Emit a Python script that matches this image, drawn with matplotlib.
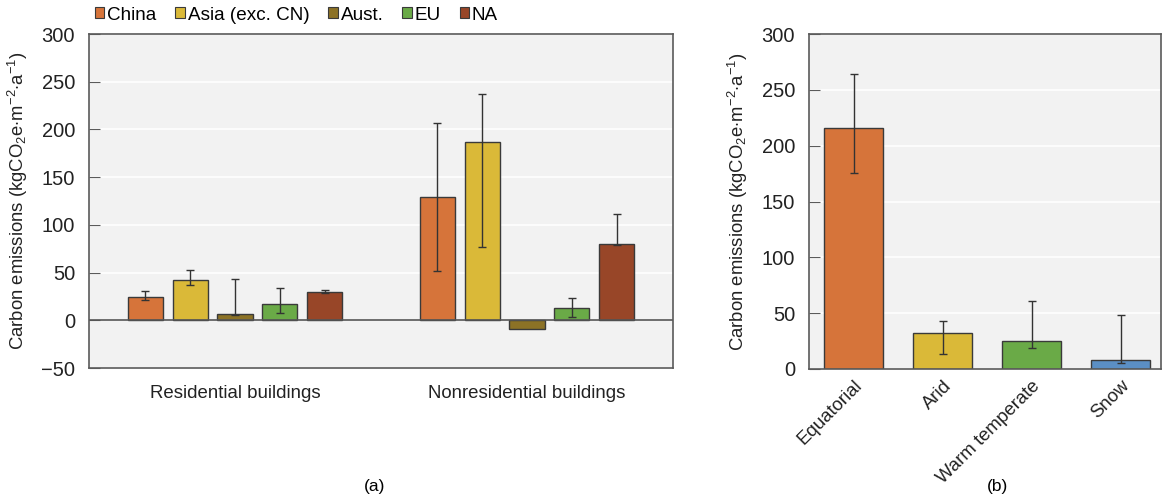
import numpy as np
import matplotlib.pyplot as plt
from matplotlib.patches import Patch

plt.rcParams['font.family'] = ['Liberation Sans', 'DejaVu Sans']
plt.rcParams['font.size'] = 11
plt.rcParams['mathtext.fontset'] = 'custom'
plt.rcParams['mathtext.rm'] = 'Liberation Sans'
plt.rcParams['mathtext.it'] = 'Liberation Sans'

# panel (a): emissions by region and building type
groups = ['Residential buildings', 'Nonresidential buildings']
regions = ['China', 'Asia (exc. CN)', 'Aust.', 'EU', 'NA']
region_colors = ['#d6743a', '#dab938', '#8c7226', '#6aaa47', '#984628']
vals_a = [[24, 42, 6.5, 17, 30],
          [129.5, 186.5, -9.5, 12.5, 80]]
err_lo_a = [[21.5, 36.5, 5.5, 7.5, 29],
            [52, 77, -9.5, 3, 78.5]]
err_hi_a = [[30.5, 52.5, 43.5, 34, 31.5],
            [207, 237.5, -9.5, 23, 111]]

# panel (b): emissions by climate zone
zones = ['Equatorial', 'Arid', 'Warm temperate', 'Snow']
zone_colors = ['#d6743a', '#dab938', '#6aaa47', '#5b8fc4']
vals_b = [215.5, 32.5, 25, 8.5]
err_lo_b = [175.5, 13.5, 18.5, 5.5]
err_hi_b = [264, 43, 61, 48]

ylabel = 'Carbon emissions (kgCO$_2$e$\\cdot$m$^{-2}$$\\cdot$a$^{-1}$)'
edge = '#3a3a3a'
spine_col = '#5a5a5a'


def style_axes(ax):
    ax.set_facecolor('#f2f2f2')
    for s in ax.spines.values():
        s.set_color(spine_col)
        s.set_linewidth(1.2)
    ax.yaxis.grid(True, color='white', linewidth=1.2)
    ax.set_axisbelow(True)
    ax.tick_params(axis='y', direction='in', length=8, color=spine_col,
                   labelsize=14.5, pad=10, labelcolor='#222222')
    ax.tick_params(axis='x', length=0, labelsize=13.4, labelcolor='#222222')
    ax.set_ylabel(ylabel, fontsize=13.3, color='#222222', labelpad=8)


fig = plt.figure(figsize=(11.62, 5.0), dpi=100)
ax1 = fig.add_axes([89 / 1162, 1 - 368 / 500, 584 / 1162, 334 / 500])
ax2 = fig.add_axes([809 / 1162, 1 - 369 / 500, 352 / 1162, 335 / 500])

style_axes(ax1)
step = 0.154
width = 0.12
x = np.arange(len(groups))
for i, (name, col) in enumerate(zip(regions, region_colors)):
    v = np.array([vals_a[g][i] for g in range(len(groups))])
    lo = np.array([err_lo_a[g][i] for g in range(len(groups))])
    hi = np.array([err_hi_a[g][i] for g in range(len(groups))])
    pos = x + (i - 2) * step
    ax1.bar(pos, v, width, color=col, edgecolor=edge, linewidth=1, zorder=2)
    yerr = np.vstack([np.clip(v - lo, 0, None), np.clip(hi - v, 0, None)])
    show = yerr.sum(axis=0) > 0
    ax1.errorbar(pos[show], v[show], yerr=yerr[:, show], fmt='none',
                 ecolor='#333333', elinewidth=1, capsize=3, capthick=1, zorder=3)
ax1.axhline(0, color='#555555', linewidth=1.2, zorder=2.5)
ax1.set_xlim(-0.5, 1.5)
ax1.set_ylim(-50, 300)
ax1.set_yticks(np.arange(-50, 301, 50))
ax1.set_yticklabels(['\u221250'] + [str(t) for t in range(0, 301, 50)])
ax1.set_xticks(x)
ax1.set_xticklabels(groups)
ax1.tick_params(axis='x', pad=12)

style_axes(ax2)
xb = np.arange(len(zones))
vb = np.array(vals_b)
ax2.bar(xb, vb, 0.66, color=zone_colors, edgecolor=edge, linewidth=1, zorder=2)
ax2.errorbar(xb, vb, yerr=[vb - np.array(err_lo_b), np.array(err_hi_b) - vb],
             fmt='none', ecolor='#333333', elinewidth=1, capsize=3, capthick=1,
             zorder=3)
ax2.set_xlim(-0.5, 3.45)
ax2.set_ylim(0, 300)
ax2.set_yticks(np.arange(0, 301, 50))
ax2.set_xticks(xb)
ax2.set_xticklabels(zones, rotation=45, ha='right', rotation_mode='anchor')
ax2.tick_params(axis='x', pad=6)

handles = [Patch(facecolor=c, edgecolor=edge, linewidth=0.8) for c in region_colors]
fig.legend(handles, regions, loc='center left', bbox_to_anchor=(95 / 1162, 1 - 15 / 500),
           ncol=5, frameon=False, fontsize=13.6, handlelength=0.5, handleheight=0.5,
           handletextpad=0.15, columnspacing=1.0, borderpad=0, borderaxespad=0)

fig.text(375 / 1162, 1 - 487 / 500, '(a)', ha='center', va='center', fontsize=12.5)
fig.text(998 / 1162, 1 - 487 / 500, '(b)', ha='center', va='center', fontsize=12.5)

fig.savefig('out.png', dpi=100, facecolor='white')
